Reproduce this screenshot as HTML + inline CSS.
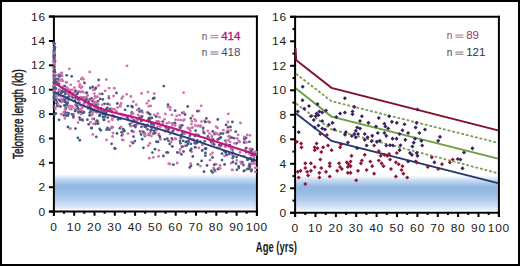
<!DOCTYPE html>
<html><head><meta charset="utf-8"><style>
html,body{margin:0;padding:0;background:#fff}
svg{display:block}
.ax{stroke:#000;stroke-width:2;fill:none}
.tl{font-family:"Liberation Sans",sans-serif;font-size:10.5px;fill:#1a1a1a;letter-spacing:0.7px}
.ti{font-family:"Liberation Sans",sans-serif;font-size:14.5px;fill:#1a1a1a;stroke:#1a1a1a;stroke-width:0.3}
.lp{stroke:#c4157a;stroke-width:2.1;fill:none;stroke-linejoin:round}
.lb{stroke:#2c3a78;stroke-width:1.9;fill:none;stroke-linejoin:round}
.r99{stroke:#80102e;stroke-width:1.9;fill:none}
.g50{stroke:#6aa040;stroke-width:1.9;fill:none}
.gd{stroke:#789e4e;stroke-width:1.8;fill:none;stroke-dasharray:2.8 1.9}
.b01{stroke:#22386e;stroke-width:1.9;fill:none}
.p{fill:#d070aa}.b{fill:#4a5a84}.v{fill:#3a2262}.r{fill:#8e1536}
.n{font-family:"Liberation Sans",sans-serif;font-size:10px}
</style></head><body>
<svg width="520" height="266" viewBox="0 0 520 266">
<defs>
<linearGradient id="band" x1="0" y1="0" x2="0" y2="1">
<stop offset="0" stop-color="#ffffff"/>
<stop offset="0.14" stop-color="#c6dbf3"/>
<stop offset="0.32" stop-color="#93b8e3"/>
<stop offset="0.45" stop-color="#95bae4"/>
<stop offset="0.68" stop-color="#adcaec"/>
<stop offset="0.9" stop-color="#d2e3f5"/>
<stop offset="1" stop-color="#eaf2fb"/>
</linearGradient>
</defs>
<rect x="1" y="1" width="518" height="264" fill="#fff" stroke="#000" stroke-width="2"/>
<rect x="54.9" y="174" width="201" height="35.3" fill="url(#band)"/><path class="ax" d="M48.9 16.6H257.9" /><path class="ax" d="M256.9 15.6V215.8" /><path class="ax" d="M53.9 15.6V215.8" /><path class="ax" d="M48.9 211.6H257.9" /><path class="ax" d="M48.9 211.6H53.9"/><text class="tl" transform="translate(46 215.7) scale(1.14 1)" text-anchor="end">0</text><path class="ax" d="M48.9 187.2H53.9"/><text class="tl" transform="translate(46 191.3) scale(1.14 1)" text-anchor="end">2</text><path class="ax" d="M48.9 162.8H53.9"/><text class="tl" transform="translate(46 166.9) scale(1.14 1)" text-anchor="end">4</text><path class="ax" d="M48.9 138.5H53.9"/><text class="tl" transform="translate(46 142.6) scale(1.14 1)" text-anchor="end">6</text><path class="ax" d="M48.9 114.1H53.9"/><text class="tl" transform="translate(46 118.2) scale(1.14 1)" text-anchor="end">8</text><path class="ax" d="M48.9 89.7H53.9"/><text class="tl" transform="translate(46 93.8) scale(1.14 1)" text-anchor="end">10</text><path class="ax" d="M48.9 65.3H53.9"/><text class="tl" transform="translate(46 69.4) scale(1.14 1)" text-anchor="end">12</text><path class="ax" d="M48.9 41H53.9"/><text class="tl" transform="translate(46 45.1) scale(1.14 1)" text-anchor="end">14</text><path class="ax" d="M48.9 16.6H53.9"/><text class="tl" transform="translate(46 20.7) scale(1.14 1)" text-anchor="end">16</text><path class="ax" d="M53.9 211.6V215.8"/><text class="tl" transform="translate(53.9 231.2) scale(1.14 1)" text-anchor="middle">0</text><path class="ax" d="M64 211.6V213.8"/><path class="ax" d="M74.2 211.6V215.8"/><text class="tl" transform="translate(74.2 231.2) scale(1.14 1)" text-anchor="middle">10</text><path class="ax" d="M84.3 211.6V213.8"/><path class="ax" d="M94.5 211.6V215.8"/><text class="tl" transform="translate(94.5 231.2) scale(1.14 1)" text-anchor="middle">20</text><path class="ax" d="M104.6 211.6V213.8"/><path class="ax" d="M114.8 211.6V215.8"/><text class="tl" transform="translate(114.8 231.2) scale(1.14 1)" text-anchor="middle">30</text><path class="ax" d="M124.9 211.6V213.8"/><path class="ax" d="M135.1 211.6V215.8"/><text class="tl" transform="translate(135.1 231.2) scale(1.14 1)" text-anchor="middle">40</text><path class="ax" d="M145.2 211.6V213.8"/><path class="ax" d="M155.4 211.6V215.8"/><text class="tl" transform="translate(155.4 231.2) scale(1.14 1)" text-anchor="middle">50</text><path class="ax" d="M165.5 211.6V213.8"/><path class="ax" d="M175.7 211.6V215.8"/><text class="tl" transform="translate(175.7 231.2) scale(1.14 1)" text-anchor="middle">60</text><path class="ax" d="M185.8 211.6V213.8"/><path class="ax" d="M196 211.6V215.8"/><text class="tl" transform="translate(196 231.2) scale(1.14 1)" text-anchor="middle">70</text><path class="ax" d="M206.1 211.6V213.8"/><path class="ax" d="M216.3 211.6V215.8"/><text class="tl" transform="translate(216.3 231.2) scale(1.14 1)" text-anchor="middle">80</text><path class="ax" d="M226.4 211.6V213.8"/><path class="ax" d="M236.6 211.6V215.8"/><text class="tl" transform="translate(236.6 231.2) scale(1.14 1)" text-anchor="middle">90</text><path class="ax" d="M246.7 211.6V213.8"/><path class="ax" d="M256.9 211.6V215.8"/><text class="tl" transform="translate(256.9 231.2) scale(1.14 1)" text-anchor="middle">100</text><circle class="b" cx="168.8" cy="128.7" r="1.4"/><circle class="b" cx="217.7" cy="139.6" r="1.4"/><circle class="b" cx="59.2" cy="99.9" r="1.4"/><circle class="b" cx="83.3" cy="112.9" r="1.4"/><circle class="b" cx="60.4" cy="106.5" r="1.4"/><circle class="b" cx="166.6" cy="152.4" r="1.4"/><circle class="b" cx="121.8" cy="135.4" r="1.4"/><circle class="p" cx="148.9" cy="106.2" r="1.4"/><circle class="p" cx="125.8" cy="116.2" r="1.4"/><circle class="b" cx="155.8" cy="129.8" r="1.4"/><circle class="p" cx="96.1" cy="87.4" r="1.4"/><circle class="b" cx="106.3" cy="109.2" r="1.4"/><circle class="p" cx="90.6" cy="122.3" r="1.4"/><circle class="p" cx="54.9" cy="80.6" r="1.4"/><circle class="p" cx="154.2" cy="93.6" r="1.4"/><circle class="p" cx="114.3" cy="88.2" r="1.4"/><circle class="p" cx="199.1" cy="110.9" r="1.4"/><circle class="b" cx="145.7" cy="127.2" r="1.4"/><circle class="p" cx="149.1" cy="120.7" r="1.4"/><circle class="p" cx="172.6" cy="139.9" r="1.4"/><circle class="p" cx="67.1" cy="102.9" r="1.4"/><circle class="b" cx="63.5" cy="99.5" r="1.4"/><circle class="b" cx="67.9" cy="115.7" r="1.4"/><circle class="p" cx="88.7" cy="104.5" r="1.4"/><circle class="b" cx="83.1" cy="97.7" r="1.4"/><circle class="p" cx="170.1" cy="109.7" r="1.4"/><circle class="p" cx="73.6" cy="114.5" r="1.4"/><circle class="p" cx="209.5" cy="133.6" r="1.4"/><circle class="p" cx="126.7" cy="94.3" r="1.4"/><circle class="b" cx="78.8" cy="112" r="1.4"/><circle class="p" cx="250" cy="149.9" r="1.4"/><circle class="p" cx="111.7" cy="110.6" r="1.4"/><circle class="p" cx="78.6" cy="113.1" r="1.4"/><circle class="p" cx="120.1" cy="106.6" r="1.4"/><circle class="p" cx="105.8" cy="114.2" r="1.4"/><circle class="p" cx="232.2" cy="154.5" r="1.4"/><circle class="p" cx="172.1" cy="123.5" r="1.4"/><circle class="p" cx="94.5" cy="107.7" r="1.4"/><circle class="p" cx="166.6" cy="128.3" r="1.4"/><circle class="b" cx="243.5" cy="165" r="1.4"/><circle class="b" cx="190" cy="135.5" r="1.4"/><circle class="b" cx="233.5" cy="156.4" r="1.4"/><circle class="p" cx="208.5" cy="137.9" r="1.4"/><circle class="b" cx="185.9" cy="142.2" r="1.4"/><circle class="b" cx="63.6" cy="91.6" r="1.4"/><circle class="b" cx="195" cy="135.9" r="1.4"/><circle class="p" cx="73.3" cy="117.8" r="1.4"/><circle class="b" cx="73.4" cy="116.5" r="1.4"/><circle class="b" cx="188.4" cy="141.8" r="1.4"/><circle class="p" cx="167.9" cy="107" r="1.4"/><circle class="p" cx="122.9" cy="115.4" r="1.4"/><circle class="b" cx="183.2" cy="140.9" r="1.4"/><circle class="p" cx="244.5" cy="140.1" r="1.4"/><circle class="b" cx="148.9" cy="118.3" r="1.4"/><circle class="b" cx="229.7" cy="145.1" r="1.4"/><circle class="b" cx="65.5" cy="112.5" r="1.4"/><circle class="p" cx="209.8" cy="140.3" r="1.4"/><circle class="p" cx="146.9" cy="103.3" r="1.4"/><circle class="b" cx="231.4" cy="148.1" r="1.4"/><circle class="p" cx="82.9" cy="120.7" r="1.4"/><circle class="p" cx="139.6" cy="116.7" r="1.4"/><circle class="b" cx="163.4" cy="156" r="1.4"/><circle class="p" cx="82.1" cy="110.8" r="1.4"/><circle class="p" cx="136.7" cy="124.6" r="1.4"/><circle class="b" cx="90.3" cy="88" r="1.4"/><circle class="b" cx="211.3" cy="170.8" r="1.4"/><circle class="b" cx="65.2" cy="105.3" r="1.4"/><circle class="b" cx="212.9" cy="142.9" r="1.4"/><circle class="b" cx="236.5" cy="157" r="1.4"/><circle class="p" cx="66.6" cy="98.7" r="1.4"/><circle class="p" cx="128" cy="133.6" r="1.4"/><circle class="b" cx="190.9" cy="143.8" r="1.4"/><circle class="b" cx="212.8" cy="131.4" r="1.4"/><circle class="b" cx="156.2" cy="116.5" r="1.4"/><circle class="b" cx="149.4" cy="120.1" r="1.4"/><circle class="p" cx="93.2" cy="110.6" r="1.4"/><circle class="p" cx="67.8" cy="88.6" r="1.4"/><circle class="p" cx="96" cy="121.3" r="1.4"/><circle class="b" cx="187.7" cy="106.5" r="1.4"/><circle class="p" cx="178.4" cy="119.9" r="1.4"/><circle class="p" cx="204.5" cy="121" r="1.4"/><circle class="b" cx="251.5" cy="169.7" r="1.4"/><circle class="p" cx="95.1" cy="96.8" r="1.4"/><circle class="b" cx="149.8" cy="118" r="1.4"/><circle class="p" cx="56.8" cy="102.1" r="1.4"/><circle class="p" cx="246.6" cy="147.9" r="1.4"/><circle class="p" cx="61.8" cy="72.8" r="1.4"/><circle class="b" cx="127.8" cy="106.1" r="1.4"/><circle class="b" cx="147.5" cy="129.3" r="1.4"/><circle class="p" cx="192.1" cy="139.7" r="1.4"/><circle class="b" cx="139" cy="108.8" r="1.4"/><circle class="p" cx="70.2" cy="128.7" r="1.4"/><circle class="p" cx="147.2" cy="112.4" r="1.4"/><circle class="b" cx="252.2" cy="149.3" r="1.4"/><circle class="p" cx="75.4" cy="90.3" r="1.4"/><circle class="b" cx="167.3" cy="138.7" r="1.4"/><circle class="b" cx="182.5" cy="132.1" r="1.4"/><circle class="b" cx="140.4" cy="119" r="1.4"/><circle class="b" cx="141.3" cy="120.4" r="1.4"/><circle class="b" cx="67.1" cy="97.6" r="1.4"/><circle class="b" cx="91.5" cy="98.3" r="1.4"/><circle class="b" cx="232.4" cy="149.7" r="1.4"/><circle class="b" cx="141.4" cy="120.9" r="1.4"/><circle class="p" cx="109.6" cy="104.7" r="1.4"/><circle class="p" cx="151.3" cy="122.7" r="1.4"/><circle class="b" cx="107.1" cy="108.4" r="1.4"/><circle class="b" cx="71.6" cy="96.1" r="1.4"/><circle class="p" cx="98.3" cy="104.5" r="1.4"/><circle class="p" cx="197.8" cy="126" r="1.4"/><circle class="b" cx="254.5" cy="154.8" r="1.4"/><circle class="p" cx="79.1" cy="100.8" r="1.4"/><circle class="p" cx="158" cy="123.2" r="1.4"/><circle class="b" cx="90.9" cy="110.8" r="1.4"/><circle class="b" cx="234" cy="138.2" r="1.4"/><circle class="p" cx="133.3" cy="101.6" r="1.4"/><circle class="p" cx="245.1" cy="170.3" r="1.4"/><circle class="b" cx="93.9" cy="118.9" r="1.4"/><circle class="p" cx="54.6" cy="76.2" r="1.4"/><circle class="p" cx="131.7" cy="142.2" r="1.4"/><circle class="b" cx="102.9" cy="117" r="1.4"/><circle class="b" cx="99.4" cy="115.7" r="1.4"/><circle class="p" cx="79.4" cy="102.3" r="1.4"/><circle class="b" cx="197" cy="143.1" r="1.4"/><circle class="b" cx="134.9" cy="141.1" r="1.4"/><circle class="p" cx="160.3" cy="126.8" r="1.4"/><circle class="b" cx="56.8" cy="103.3" r="1.4"/><circle class="b" cx="144.8" cy="136.1" r="1.4"/><circle class="b" cx="54" cy="62" r="1.4"/><circle class="b" cx="197.8" cy="164.3" r="1.4"/><circle class="p" cx="216" cy="164.2" r="1.4"/><circle class="p" cx="212.6" cy="152.8" r="1.4"/><circle class="p" cx="105.2" cy="90.9" r="1.4"/><circle class="b" cx="101.1" cy="108.3" r="1.4"/><circle class="p" cx="189.3" cy="128.9" r="1.4"/><circle class="p" cx="108.8" cy="121.6" r="1.4"/><circle class="p" cx="106.3" cy="79.6" r="1.4"/><circle class="p" cx="201.2" cy="105.8" r="1.4"/><circle class="p" cx="191.5" cy="124.1" r="1.4"/><circle class="b" cx="54.2" cy="89.3" r="1.4"/><circle class="b" cx="154.3" cy="98" r="1.4"/><circle class="b" cx="209.3" cy="122.2" r="1.4"/><circle class="p" cx="56.2" cy="98.2" r="1.4"/><circle class="b" cx="69.3" cy="92.6" r="1.4"/><circle class="b" cx="154.9" cy="149.2" r="1.4"/><circle class="p" cx="144.6" cy="134.2" r="1.4"/><circle class="p" cx="172.6" cy="131.2" r="1.4"/><circle class="b" cx="78.5" cy="111.8" r="1.4"/><circle class="p" cx="231.3" cy="163.2" r="1.4"/><circle class="p" cx="88.3" cy="108.6" r="1.4"/><circle class="p" cx="61.7" cy="102.1" r="1.4"/><circle class="b" cx="182.5" cy="146.6" r="1.4"/><circle class="p" cx="88.9" cy="108" r="1.4"/><circle class="b" cx="194.7" cy="142.6" r="1.4"/><circle class="p" cx="238.1" cy="134.8" r="1.4"/><circle class="p" cx="137.7" cy="124.1" r="1.4"/><circle class="b" cx="71.7" cy="76.3" r="1.4"/><circle class="b" cx="60.9" cy="75.6" r="1.4"/><circle class="b" cx="64.4" cy="105.5" r="1.4"/><circle class="b" cx="218.6" cy="168.6" r="1.4"/><circle class="b" cx="76.5" cy="109.1" r="1.4"/><circle class="p" cx="204.5" cy="133.3" r="1.4"/><circle class="b" cx="85" cy="102.3" r="1.4"/><circle class="b" cx="222" cy="160.1" r="1.4"/><circle class="b" cx="195.2" cy="143.4" r="1.4"/><circle class="p" cx="249" cy="153.5" r="1.4"/><circle class="p" cx="54" cy="85.7" r="1.4"/><circle class="b" cx="204" cy="171.7" r="1.4"/><circle class="b" cx="57.7" cy="95.4" r="1.4"/><circle class="b" cx="80.3" cy="111.6" r="1.4"/><circle class="p" cx="172.4" cy="125.3" r="1.4"/><circle class="p" cx="122.7" cy="134" r="1.4"/><circle class="p" cx="254.8" cy="151.6" r="1.4"/><circle class="p" cx="94.4" cy="110.5" r="1.4"/><circle class="b" cx="250.4" cy="158.2" r="1.4"/><circle class="p" cx="80.5" cy="92.1" r="1.4"/><circle class="p" cx="78" cy="122.6" r="1.4"/><circle class="p" cx="122.2" cy="139.8" r="1.4"/><circle class="b" cx="226.1" cy="124.9" r="1.4"/><circle class="b" cx="141.8" cy="111" r="1.4"/><circle class="b" cx="254.1" cy="154" r="1.4"/><circle class="b" cx="66.7" cy="75.3" r="1.4"/><circle class="p" cx="150.7" cy="105.9" r="1.4"/><circle class="p" cx="88" cy="108.2" r="1.4"/><circle class="p" cx="62.2" cy="75.8" r="1.4"/><circle class="p" cx="255.4" cy="171.9" r="1.4"/><circle class="p" cx="224.6" cy="155.9" r="1.4"/><circle class="p" cx="137.3" cy="110.1" r="1.4"/><circle class="b" cx="54.2" cy="96.7" r="1.4"/><circle class="b" cx="111.6" cy="143.8" r="1.4"/><circle class="b" cx="103.6" cy="113.1" r="1.4"/><circle class="p" cx="97.4" cy="107.3" r="1.4"/><circle class="b" cx="230.5" cy="127" r="1.4"/><circle class="p" cx="205.7" cy="149.1" r="1.4"/><circle class="p" cx="70.1" cy="105.8" r="1.4"/><circle class="b" cx="205" cy="148.7" r="1.4"/><circle class="b" cx="69.2" cy="96.3" r="1.4"/><circle class="b" cx="247.4" cy="168.9" r="1.4"/><circle class="b" cx="180.4" cy="143.3" r="1.4"/><circle class="p" cx="183.5" cy="120.6" r="1.4"/><circle class="b" cx="181.9" cy="125.4" r="1.4"/><circle class="p" cx="214.7" cy="134.3" r="1.4"/><circle class="p" cx="211.8" cy="135.9" r="1.4"/><circle class="b" cx="212.5" cy="157.5" r="1.4"/><circle class="b" cx="68.6" cy="113.5" r="1.4"/><circle class="p" cx="228.6" cy="136.3" r="1.4"/><circle class="p" cx="78.6" cy="81.4" r="1.4"/><circle class="b" cx="54.3" cy="87.4" r="1.4"/><circle class="p" cx="175.1" cy="138.3" r="1.4"/><circle class="p" cx="75.6" cy="104.8" r="1.4"/><circle class="p" cx="149.9" cy="143.3" r="1.4"/><circle class="p" cx="179.7" cy="152.6" r="1.4"/><circle class="b" cx="68.5" cy="94.1" r="1.4"/><circle class="p" cx="113.6" cy="96" r="1.4"/><circle class="b" cx="191" cy="165.7" r="1.4"/><circle class="b" cx="251.3" cy="171.1" r="1.4"/><circle class="b" cx="188.1" cy="143.9" r="1.4"/><circle class="b" cx="180.1" cy="140.9" r="1.4"/><circle class="p" cx="109" cy="88.1" r="1.4"/><circle class="b" cx="226.7" cy="154.9" r="1.4"/><circle class="b" cx="66.3" cy="103.7" r="1.4"/><circle class="b" cx="244.2" cy="142.6" r="1.4"/><circle class="b" cx="131.8" cy="112.4" r="1.4"/><circle class="b" cx="221.1" cy="145.6" r="1.4"/><circle class="p" cx="90.7" cy="108.6" r="1.4"/><circle class="b" cx="183" cy="133.6" r="1.4"/><circle class="b" cx="107.6" cy="103.9" r="1.4"/><circle class="b" cx="236" cy="163.7" r="1.4"/><circle class="p" cx="250.8" cy="155.1" r="1.4"/><circle class="p" cx="106.5" cy="139.9" r="1.4"/><circle class="b" cx="75.2" cy="111.1" r="1.4"/><circle class="p" cx="130.4" cy="126" r="1.4"/><circle class="b" cx="67.2" cy="105.1" r="1.4"/><circle class="p" cx="223.4" cy="130.2" r="1.4"/><circle class="b" cx="212.6" cy="172.4" r="1.4"/><circle class="b" cx="75.3" cy="91.3" r="1.4"/><circle class="p" cx="96.4" cy="102.8" r="1.4"/><circle class="b" cx="142.1" cy="116.5" r="1.4"/><circle class="p" cx="55.3" cy="108.7" r="1.4"/><circle class="p" cx="230.1" cy="141.8" r="1.4"/><circle class="p" cx="109.3" cy="110.6" r="1.4"/><circle class="b" cx="54.1" cy="92.5" r="1.4"/><circle class="p" cx="145.4" cy="125.2" r="1.4"/><circle class="p" cx="65.3" cy="109.3" r="1.4"/><circle class="b" cx="92.6" cy="101" r="1.4"/><circle class="b" cx="205.4" cy="155.7" r="1.4"/><circle class="p" cx="210" cy="160.2" r="1.4"/><circle class="p" cx="166.1" cy="128.2" r="1.4"/><circle class="p" cx="123.3" cy="140.1" r="1.4"/><circle class="b" cx="67.7" cy="103.1" r="1.4"/><circle class="p" cx="241.3" cy="163.6" r="1.4"/><circle class="b" cx="203.7" cy="132.5" r="1.4"/><circle class="b" cx="169.7" cy="144.1" r="1.4"/><circle class="b" cx="99.8" cy="115.4" r="1.4"/><circle class="p" cx="217.5" cy="128" r="1.4"/><circle class="b" cx="140.2" cy="131.5" r="1.4"/><circle class="p" cx="168.9" cy="128.4" r="1.4"/><circle class="b" cx="190.9" cy="118.3" r="1.4"/><circle class="b" cx="232.7" cy="153.1" r="1.4"/><circle class="b" cx="249" cy="166" r="1.4"/><circle class="b" cx="143.4" cy="147.8" r="1.4"/><circle class="b" cx="211.3" cy="142.1" r="1.4"/><circle class="b" cx="158.3" cy="121.7" r="1.4"/><circle class="p" cx="56.6" cy="83.8" r="1.4"/><circle class="b" cx="213.1" cy="139.4" r="1.4"/><circle class="p" cx="240" cy="152.3" r="1.4"/><circle class="b" cx="58.2" cy="79.1" r="1.4"/><circle class="b" cx="141.4" cy="126.8" r="1.4"/><circle class="b" cx="67.9" cy="127" r="1.4"/><circle class="p" cx="80.5" cy="105.4" r="1.4"/><circle class="b" cx="220.8" cy="137.5" r="1.4"/><circle class="b" cx="72.7" cy="97.6" r="1.4"/><circle class="b" cx="189.1" cy="137.9" r="1.4"/><circle class="b" cx="181.6" cy="134.7" r="1.4"/><circle class="p" cx="210.6" cy="154.6" r="1.4"/><circle class="b" cx="127.4" cy="117.6" r="1.4"/><circle class="b" cx="106.2" cy="112.8" r="1.4"/><circle class="p" cx="88.6" cy="104.5" r="1.4"/><circle class="b" cx="117.3" cy="103.5" r="1.4"/><circle class="p" cx="202.4" cy="145" r="1.4"/><circle class="b" cx="89.6" cy="115.3" r="1.4"/><circle class="b" cx="233" cy="161.9" r="1.4"/><circle class="b" cx="185" cy="114.5" r="1.4"/><circle class="b" cx="75.1" cy="110.7" r="1.4"/><circle class="p" cx="227.6" cy="130.7" r="1.4"/><circle class="p" cx="236.8" cy="160.4" r="1.4"/><circle class="p" cx="70.7" cy="95.6" r="1.4"/><circle class="p" cx="61.1" cy="73.2" r="1.4"/><circle class="b" cx="99.9" cy="114.7" r="1.4"/><circle class="p" cx="185" cy="145.9" r="1.4"/><circle class="b" cx="252" cy="159.3" r="1.4"/><circle class="p" cx="67.6" cy="92.5" r="1.4"/><circle class="p" cx="194.8" cy="147.1" r="1.4"/><circle class="p" cx="110.8" cy="128" r="1.4"/><circle class="b" cx="236.7" cy="143.3" r="1.4"/><circle class="b" cx="78.1" cy="99.2" r="1.4"/><circle class="b" cx="246.1" cy="152" r="1.4"/><circle class="b" cx="195.6" cy="130.6" r="1.4"/><circle class="p" cx="62" cy="88.1" r="1.4"/><circle class="p" cx="112.1" cy="118.8" r="1.4"/><circle class="b" cx="167.9" cy="152.6" r="1.4"/><circle class="p" cx="180.3" cy="126" r="1.4"/><circle class="p" cx="180.9" cy="120.1" r="1.4"/><circle class="p" cx="66.7" cy="82.4" r="1.4"/><circle class="p" cx="53.9" cy="86.3" r="1.4"/><circle class="p" cx="68.1" cy="90" r="1.4"/><circle class="p" cx="154.3" cy="114.8" r="1.4"/><circle class="p" cx="93.2" cy="89.9" r="1.4"/><circle class="p" cx="56.9" cy="95.6" r="1.4"/><circle class="b" cx="150.7" cy="130.5" r="1.4"/><circle class="b" cx="219.4" cy="138.5" r="1.4"/><circle class="b" cx="91" cy="115.1" r="1.4"/><circle class="b" cx="189.8" cy="167.4" r="1.4"/><circle class="p" cx="198.9" cy="147.8" r="1.4"/><circle class="b" cx="64.4" cy="112.4" r="1.4"/><circle class="b" cx="219.4" cy="145.2" r="1.4"/><circle class="p" cx="145.2" cy="135.4" r="1.4"/><circle class="b" cx="238.7" cy="166.5" r="1.4"/><circle class="b" cx="54" cy="85.8" r="1.4"/><circle class="b" cx="84.5" cy="83" r="1.4"/><circle class="p" cx="68.7" cy="92" r="1.4"/><circle class="p" cx="82.4" cy="77.8" r="1.4"/><circle class="b" cx="102.8" cy="113.9" r="1.4"/><circle class="p" cx="68.3" cy="100.6" r="1.4"/><circle class="p" cx="60.1" cy="80.5" r="1.4"/><circle class="p" cx="147.9" cy="92.1" r="1.4"/><circle class="p" cx="199.6" cy="125.8" r="1.4"/><circle class="b" cx="171.8" cy="138.5" r="1.4"/><circle class="b" cx="186.6" cy="145.6" r="1.4"/><circle class="b" cx="224.7" cy="151.3" r="1.4"/><circle class="b" cx="101.3" cy="110.6" r="1.4"/><circle class="p" cx="149.3" cy="158.2" r="1.4"/><circle class="p" cx="89.7" cy="72" r="1.4"/><circle class="b" cx="181.9" cy="146.8" r="1.4"/><circle class="b" cx="136.9" cy="120.2" r="1.4"/><circle class="b" cx="108.9" cy="98" r="1.4"/><circle class="b" cx="65.5" cy="101.8" r="1.4"/><circle class="b" cx="217.9" cy="169.2" r="1.4"/><circle class="p" cx="98.2" cy="122.9" r="1.4"/><circle class="p" cx="140.1" cy="117.7" r="1.4"/><circle class="p" cx="71.2" cy="106.3" r="1.4"/><circle class="b" cx="158" cy="141.9" r="1.4"/><circle class="p" cx="83.6" cy="79.3" r="1.4"/><circle class="b" cx="242.2" cy="162.2" r="1.4"/><circle class="b" cx="197.2" cy="140.3" r="1.4"/><circle class="b" cx="97" cy="120.8" r="1.4"/><circle class="b" cx="186.7" cy="141.6" r="1.4"/><circle class="p" cx="120.7" cy="114.3" r="1.4"/><circle class="b" cx="141.1" cy="134.5" r="1.4"/><circle class="p" cx="190.7" cy="163.6" r="1.4"/><circle class="b" cx="203.2" cy="128" r="1.4"/><circle class="b" cx="57.4" cy="106.1" r="1.4"/><circle class="p" cx="200.4" cy="126.5" r="1.4"/><circle class="p" cx="200.6" cy="125.6" r="1.4"/><circle class="b" cx="89.5" cy="99.5" r="1.4"/><circle class="p" cx="94.9" cy="89.4" r="1.4"/><circle class="b" cx="202.2" cy="150.5" r="1.4"/><circle class="p" cx="63.7" cy="112.1" r="1.4"/><circle class="b" cx="54" cy="57" r="1.4"/><circle class="b" cx="133.1" cy="143.1" r="1.4"/><circle class="b" cx="225.5" cy="140.7" r="1.4"/><circle class="b" cx="205.4" cy="152.9" r="1.4"/><circle class="b" cx="244.3" cy="138.7" r="1.4"/><circle class="p" cx="54.1" cy="87.2" r="1.4"/><circle class="b" cx="96.8" cy="112.2" r="1.4"/><circle class="p" cx="170.9" cy="142.2" r="1.4"/><circle class="p" cx="179.5" cy="115.1" r="1.4"/><circle class="b" cx="165.6" cy="131.1" r="1.4"/><circle class="p" cx="250" cy="135.3" r="1.4"/><circle class="b" cx="180.8" cy="138" r="1.4"/><circle class="b" cx="162.7" cy="121.6" r="1.4"/><circle class="b" cx="97.3" cy="121" r="1.4"/><circle class="b" cx="149" cy="121.5" r="1.4"/><circle class="b" cx="232.6" cy="158" r="1.4"/><circle class="b" cx="54.3" cy="79.7" r="1.4"/><circle class="p" cx="153.6" cy="126.4" r="1.4"/><circle class="b" cx="67.8" cy="97.8" r="1.4"/><circle class="b" cx="79.8" cy="140.2" r="1.4"/><circle class="p" cx="92.5" cy="119" r="1.4"/><circle class="p" cx="88.4" cy="100.1" r="1.4"/><circle class="b" cx="114.2" cy="116.5" r="1.4"/><circle class="p" cx="188.6" cy="137.8" r="1.4"/><circle class="p" cx="148.6" cy="100.8" r="1.4"/><circle class="b" cx="247.4" cy="159.5" r="1.4"/><circle class="p" cx="251.4" cy="152.1" r="1.4"/><circle class="p" cx="75.9" cy="104.4" r="1.4"/><circle class="p" cx="61.8" cy="79.5" r="1.4"/><circle class="b" cx="61.4" cy="92.7" r="1.4"/><circle class="b" cx="173.3" cy="130.7" r="1.4"/><circle class="b" cx="77.3" cy="106" r="1.4"/><circle class="b" cx="151.8" cy="118" r="1.4"/><circle class="b" cx="120.4" cy="118.9" r="1.4"/><circle class="b" cx="135.4" cy="127" r="1.4"/><circle class="p" cx="203.1" cy="130.5" r="1.4"/><circle class="p" cx="141.5" cy="93.4" r="1.4"/><circle class="p" cx="61.2" cy="114.2" r="1.4"/><circle class="b" cx="58.6" cy="91.8" r="1.4"/><circle class="p" cx="229.5" cy="136.2" r="1.4"/><circle class="p" cx="192.4" cy="127.5" r="1.4"/><circle class="b" cx="251.3" cy="151" r="1.4"/><circle class="b" cx="58.5" cy="74.8" r="1.4"/><circle class="b" cx="133.5" cy="136.6" r="1.4"/><circle class="b" cx="87.4" cy="119.7" r="1.4"/><circle class="b" cx="198.4" cy="135.1" r="1.4"/><circle class="b" cx="61.5" cy="92.4" r="1.4"/><circle class="b" cx="114.7" cy="148.2" r="1.4"/><circle class="p" cx="66.1" cy="82.1" r="1.4"/><circle class="p" cx="162.9" cy="123.7" r="1.4"/><circle class="p" cx="87.7" cy="95.4" r="1.4"/><circle class="p" cx="191.6" cy="151.8" r="1.4"/><circle class="p" cx="179.6" cy="127.4" r="1.4"/><circle class="p" cx="76.6" cy="97" r="1.4"/><circle class="p" cx="54.4" cy="79.4" r="1.4"/><circle class="p" cx="200.4" cy="166.1" r="1.4"/><circle class="b" cx="98.7" cy="79.9" r="1.4"/><circle class="b" cx="81.4" cy="113.1" r="1.4"/><circle class="b" cx="104.3" cy="119.7" r="1.4"/><circle class="p" cx="74.4" cy="87.7" r="1.4"/><circle class="b" cx="112.5" cy="127.3" r="1.4"/><circle class="b" cx="103.6" cy="119.8" r="1.4"/><circle class="p" cx="114.3" cy="109.2" r="1.4"/><circle class="p" cx="80" cy="84.6" r="1.4"/><circle class="b" cx="95.6" cy="123.8" r="1.4"/><circle class="b" cx="90.6" cy="107.4" r="1.4"/><circle class="b" cx="236.8" cy="169.8" r="1.4"/><circle class="p" cx="247.2" cy="134.9" r="1.4"/><circle class="b" cx="182.1" cy="125.3" r="1.4"/><circle class="b" cx="59.3" cy="76.5" r="1.4"/><circle class="p" cx="89.7" cy="100.3" r="1.4"/><circle class="p" cx="54.1" cy="81.8" r="1.4"/><circle class="b" cx="54.3" cy="114.7" r="1.4"/><circle class="p" cx="99.8" cy="93.9" r="1.4"/><circle class="b" cx="82.3" cy="119.6" r="1.4"/><circle class="p" cx="255" cy="167.8" r="1.4"/><circle class="p" cx="117.5" cy="107.6" r="1.4"/><circle class="b" cx="115.2" cy="148.7" r="1.4"/><circle class="b" cx="128.1" cy="119.3" r="1.4"/><circle class="b" cx="140.4" cy="117.9" r="1.4"/><circle class="p" cx="70.8" cy="84.8" r="1.4"/><circle class="p" cx="249.2" cy="163.8" r="1.4"/><circle class="p" cx="86.2" cy="93.2" r="1.4"/><circle class="p" cx="212.1" cy="143.6" r="1.4"/><circle class="b" cx="55.9" cy="88.5" r="1.4"/><circle class="p" cx="67.2" cy="88" r="1.4"/><circle class="b" cx="90.1" cy="104.7" r="1.4"/><circle class="p" cx="95.5" cy="97.6" r="1.4"/><circle class="p" cx="164.6" cy="131.1" r="1.4"/><circle class="p" cx="133" cy="113.7" r="1.4"/><circle class="p" cx="216.1" cy="126.6" r="1.4"/><circle class="b" cx="109.3" cy="129.7" r="1.4"/><circle class="b" cx="245.8" cy="148.4" r="1.4"/><circle class="b" cx="231.3" cy="148.5" r="1.4"/><circle class="p" cx="169" cy="122.6" r="1.4"/><circle class="p" cx="217.1" cy="133.8" r="1.4"/><circle class="b" cx="74.8" cy="100.7" r="1.4"/><circle class="p" cx="93.6" cy="123.9" r="1.4"/><circle class="p" cx="156.5" cy="121.5" r="1.4"/><circle class="p" cx="229.9" cy="137.5" r="1.4"/><circle class="b" cx="86.9" cy="92.6" r="1.4"/><circle class="p" cx="54.1" cy="67.5" r="1.4"/><circle class="p" cx="95.2" cy="96.5" r="1.4"/><circle class="p" cx="228.3" cy="113.9" r="1.4"/><circle class="p" cx="54.4" cy="68.7" r="1.4"/><circle class="b" cx="107.5" cy="110.6" r="1.4"/><circle class="b" cx="172.3" cy="146.5" r="1.4"/><circle class="b" cx="214.1" cy="144.5" r="1.4"/><circle class="b" cx="252.8" cy="161.5" r="1.4"/><circle class="b" cx="232.4" cy="121.9" r="1.4"/><circle class="b" cx="148.5" cy="113" r="1.4"/><circle class="p" cx="102.3" cy="112.3" r="1.4"/><circle class="b" cx="57" cy="102.9" r="1.4"/><circle class="b" cx="142.2" cy="139.2" r="1.4"/><circle class="p" cx="120.3" cy="105.5" r="1.4"/><circle class="b" cx="214.2" cy="164.7" r="1.4"/><circle class="b" cx="107.5" cy="127.9" r="1.4"/><circle class="b" cx="63.8" cy="115.3" r="1.4"/><circle class="p" cx="211.9" cy="137.8" r="1.4"/><circle class="p" cx="175.8" cy="139.2" r="1.4"/><circle class="p" cx="215.1" cy="171.3" r="1.4"/><circle class="p" cx="243.9" cy="156.2" r="1.4"/><circle class="b" cx="153.4" cy="133.7" r="1.4"/><circle class="b" cx="207.9" cy="136.5" r="1.4"/><circle class="b" cx="68" cy="113.1" r="1.4"/><circle class="p" cx="234.6" cy="143.3" r="1.4"/><circle class="p" cx="78.8" cy="91.4" r="1.4"/><circle class="p" cx="249.9" cy="148.7" r="1.4"/><circle class="b" cx="168" cy="104.7" r="1.4"/><circle class="b" cx="228.1" cy="127.3" r="1.4"/><circle class="p" cx="180.2" cy="149.5" r="1.4"/><circle class="p" cx="156.8" cy="130.1" r="1.4"/><circle class="b" cx="55.8" cy="78.8" r="1.4"/><circle class="p" cx="150.1" cy="133.3" r="1.4"/><circle class="p" cx="81.2" cy="114.1" r="1.4"/><circle class="b" cx="225.6" cy="146.5" r="1.4"/><circle class="p" cx="226.6" cy="132.4" r="1.4"/><circle class="p" cx="95" cy="101.8" r="1.4"/><circle class="p" cx="92.1" cy="114.8" r="1.4"/><circle class="b" cx="123.3" cy="129.2" r="1.4"/><circle class="p" cx="184.2" cy="134.1" r="1.4"/><circle class="b" cx="86.4" cy="99.2" r="1.4"/><circle class="p" cx="239.7" cy="141.9" r="1.4"/><circle class="b" cx="151.4" cy="124.2" r="1.4"/><circle class="p" cx="170.1" cy="164" r="1.4"/><circle class="b" cx="77.8" cy="99.1" r="1.4"/><circle class="p" cx="75.1" cy="96.9" r="1.4"/><circle class="b" cx="255.5" cy="153.7" r="1.4"/><circle class="p" cx="176.6" cy="115.9" r="1.4"/><circle class="p" cx="148.2" cy="145.7" r="1.4"/><circle class="p" cx="229.1" cy="146.6" r="1.4"/><circle class="p" cx="217.3" cy="147.7" r="1.4"/><circle class="b" cx="119.9" cy="128.2" r="1.4"/><circle class="p" cx="213.6" cy="168" r="1.4"/><circle class="p" cx="63.5" cy="86.1" r="1.4"/><circle class="b" cx="102.9" cy="99.4" r="1.4"/><circle class="b" cx="59.1" cy="89.8" r="1.4"/><circle class="p" cx="177.2" cy="163" r="1.4"/><circle class="p" cx="96" cy="107" r="1.4"/><circle class="b" cx="235.7" cy="131.7" r="1.4"/><circle class="b" cx="54.4" cy="94.4" r="1.4"/><circle class="b" cx="100.8" cy="130.3" r="1.4"/><circle class="b" cx="223.1" cy="133.6" r="1.4"/><circle class="p" cx="228.6" cy="140" r="1.4"/><circle class="p" cx="92.9" cy="103.5" r="1.4"/><circle class="b" cx="63.6" cy="96.2" r="1.4"/><circle class="b" cx="251.9" cy="161" r="1.4"/><circle class="p" cx="230.7" cy="130.3" r="1.4"/><circle class="b" cx="153.1" cy="98.5" r="1.4"/><circle class="b" cx="156.4" cy="141.7" r="1.4"/><circle class="b" cx="54" cy="82.2" r="1.4"/><circle class="p" cx="220" cy="168.3" r="1.4"/><circle class="b" cx="92.7" cy="86.9" r="1.4"/><circle class="b" cx="121.7" cy="132.2" r="1.4"/><circle class="p" cx="138.1" cy="114.8" r="1.4"/><circle class="b" cx="147.5" cy="124.9" r="1.4"/><circle class="p" cx="187.9" cy="128" r="1.4"/><circle class="b" cx="60.2" cy="101" r="1.4"/><circle class="p" cx="80.9" cy="87.8" r="1.4"/><circle class="b" cx="123.9" cy="130.9" r="1.4"/><circle class="b" cx="148.2" cy="120.1" r="1.4"/><circle class="b" cx="231.6" cy="137.7" r="1.4"/><circle class="b" cx="164.9" cy="139.3" r="1.4"/><circle class="p" cx="72.2" cy="89.8" r="1.4"/><circle class="p" cx="254.8" cy="163.7" r="1.4"/><circle class="b" cx="232.9" cy="152.7" r="1.4"/><circle class="p" cx="137.5" cy="118.9" r="1.4"/><circle class="p" cx="109.7" cy="110.5" r="1.4"/><circle class="p" cx="153.4" cy="157.4" r="1.4"/><circle class="p" cx="97.3" cy="111.4" r="1.4"/><circle class="p" cx="97.5" cy="96.7" r="1.4"/><circle class="p" cx="70.3" cy="89.9" r="1.4"/><circle class="p" cx="246.4" cy="142.4" r="1.4"/><circle class="b" cx="65.8" cy="108.2" r="1.4"/><circle class="p" cx="70.1" cy="128.6" r="1.4"/><circle class="p" cx="184.9" cy="133.2" r="1.4"/><circle class="p" cx="168.7" cy="163.6" r="1.4"/><circle class="p" cx="93" cy="112.7" r="1.4"/><circle class="b" cx="54.2" cy="77.1" r="1.4"/><circle class="b" cx="183.5" cy="151.6" r="1.4"/><circle class="p" cx="92.7" cy="112.2" r="1.4"/><circle class="p" cx="220" cy="147.1" r="1.4"/><circle class="b" cx="65.4" cy="94" r="1.4"/><circle class="p" cx="170.2" cy="107.2" r="1.4"/><circle class="p" cx="131.4" cy="126.1" r="1.4"/><circle class="b" cx="95.8" cy="105.2" r="1.4"/><circle class="b" cx="131.7" cy="106.2" r="1.4"/><circle class="p" cx="112.5" cy="136.5" r="1.4"/><circle class="b" cx="151.3" cy="130.2" r="1.4"/><circle class="b" cx="158.6" cy="123" r="1.4"/><circle class="p" cx="207.8" cy="131" r="1.4"/><circle class="p" cx="81.2" cy="98" r="1.4"/><circle class="b" cx="214.7" cy="133.4" r="1.4"/><circle class="b" cx="97.7" cy="109.8" r="1.4"/><circle class="p" cx="130.1" cy="145.8" r="1.4"/><circle class="b" cx="88.9" cy="107.4" r="1.4"/><circle class="p" cx="116.3" cy="111.2" r="1.4"/><circle class="b" cx="148.8" cy="135.1" r="1.4"/><circle class="b" cx="62.1" cy="91" r="1.4"/><circle class="b" cx="104.5" cy="103.8" r="1.4"/><circle class="p" cx="240.6" cy="161.9" r="1.4"/><circle class="p" cx="81.6" cy="98.2" r="1.4"/><circle class="b" cx="54" cy="78.3" r="1.4"/><circle class="p" cx="69" cy="93.5" r="1.4"/><circle class="p" cx="63.5" cy="99.7" r="1.4"/><circle class="p" cx="143.4" cy="124.4" r="1.4"/><circle class="p" cx="60.8" cy="96.3" r="1.4"/><circle class="b" cx="83.5" cy="106.2" r="1.4"/><circle class="p" cx="94.6" cy="103.2" r="1.4"/><circle class="b" cx="159.1" cy="135.2" r="1.4"/><circle class="b" cx="204.7" cy="141.3" r="1.4"/><circle class="p" cx="232.4" cy="169.9" r="1.4"/><circle class="p" cx="78.9" cy="91.5" r="1.4"/><circle class="p" cx="98.7" cy="85.5" r="1.4"/><circle class="b" cx="190.4" cy="150.5" r="1.4"/><circle class="b" cx="77.9" cy="137.8" r="1.4"/><circle class="p" cx="59.6" cy="90.6" r="1.4"/><circle class="p" cx="165.3" cy="114" r="1.4"/><circle class="p" cx="226.1" cy="143.3" r="1.4"/><circle class="b" cx="124.5" cy="130.8" r="1.4"/><circle class="b" cx="133.8" cy="120.5" r="1.4"/><circle class="p" cx="180" cy="125.4" r="1.4"/><circle class="p" cx="219" cy="134.9" r="1.4"/><circle class="p" cx="190.3" cy="131.1" r="1.4"/><circle class="b" cx="106.6" cy="129.7" r="1.4"/><circle class="p" cx="215.7" cy="132.9" r="1.4"/><circle class="p" cx="81.7" cy="91.5" r="1.4"/><circle class="b" cx="195.4" cy="147.4" r="1.4"/><circle class="p" cx="71.4" cy="109.2" r="1.4"/><circle class="p" cx="112.4" cy="119.9" r="1.4"/><circle class="p" cx="174.2" cy="122.9" r="1.4"/><circle class="p" cx="201.4" cy="121.6" r="1.4"/><circle class="p" cx="158.9" cy="150.3" r="1.4"/><circle class="b" cx="88.7" cy="101.9" r="1.4"/><circle class="p" cx="69.3" cy="68.8" r="1.4"/><circle class="p" cx="145" cy="133.5" r="1.4"/><circle class="b" cx="175.1" cy="110.7" r="1.4"/><circle class="b" cx="225.8" cy="152.7" r="1.4"/><circle class="b" cx="214.5" cy="169.8" r="1.4"/><circle class="b" cx="95.6" cy="88.4" r="1.4"/><circle class="p" cx="220" cy="165.5" r="1.4"/><circle class="p" cx="238.8" cy="141" r="1.4"/><circle class="p" cx="73.6" cy="92.8" r="1.4"/><circle class="b" cx="207" cy="165.4" r="1.4"/><circle class="b" cx="110.7" cy="109.4" r="1.4"/><circle class="b" cx="222" cy="153.7" r="1.4"/><circle class="b" cx="75.7" cy="97.8" r="1.4"/><circle class="b" cx="224.6" cy="164.4" r="1.4"/><circle class="b" cx="91.5" cy="127.9" r="1.4"/><circle class="p" cx="54" cy="75.5" r="1.4"/><circle class="p" cx="59.5" cy="90.2" r="1.4"/><circle class="p" cx="62.8" cy="80.9" r="1.4"/><circle class="p" cx="130.9" cy="96.5" r="1.4"/><circle class="b" cx="243.8" cy="171" r="1.4"/><circle class="p" cx="132.1" cy="122.7" r="1.4"/><circle class="b" cx="116.5" cy="93" r="1.4"/><circle class="p" cx="208.4" cy="121.7" r="1.4"/><circle class="b" cx="70" cy="92.2" r="1.4"/><circle class="p" cx="141.2" cy="131.2" r="1.4"/><circle class="p" cx="93.2" cy="99.3" r="1.4"/><circle class="p" cx="77.5" cy="109.3" r="1.4"/><circle class="p" cx="68.5" cy="106.8" r="1.4"/><circle class="p" cx="256.7" cy="167.8" r="1.4"/><circle class="p" cx="57.3" cy="75.4" r="1.4"/><circle class="b" cx="98" cy="101.2" r="1.4"/><circle class="p" cx="252.6" cy="163.6" r="1.4"/><circle class="p" cx="82.1" cy="107.8" r="1.4"/><circle class="p" cx="194.8" cy="119.3" r="1.4"/><circle class="b" cx="96.8" cy="109.4" r="1.4"/><circle class="p" cx="66.6" cy="88.2" r="1.4"/><circle class="b" cx="110.3" cy="109" r="1.4"/><circle class="b" cx="129.8" cy="124.1" r="1.4"/><circle class="b" cx="64.5" cy="101.5" r="1.4"/><circle class="p" cx="256" cy="152.1" r="1.4"/><circle class="b" cx="76.6" cy="105.8" r="1.4"/><circle class="p" cx="167.3" cy="130.4" r="1.4"/><circle class="p" cx="94.3" cy="93.6" r="1.4"/><circle class="p" cx="92.9" cy="134.4" r="1.4"/><circle class="p" cx="57.7" cy="81.1" r="1.4"/><circle class="p" cx="226" cy="141.2" r="1.4"/><circle class="b" cx="102.3" cy="93.9" r="1.4"/><circle class="p" cx="160.3" cy="139.3" r="1.4"/><circle class="b" cx="64.9" cy="86.1" r="1.4"/><circle class="b" cx="77.6" cy="92.9" r="1.4"/><circle class="b" cx="168.5" cy="129.5" r="1.4"/><circle class="b" cx="165.8" cy="127" r="1.4"/><circle class="b" cx="252.3" cy="155.3" r="1.4"/><circle class="p" cx="82.1" cy="86.9" r="1.4"/><circle class="b" cx="143.4" cy="131.9" r="1.4"/><circle class="b" cx="220.8" cy="143.6" r="1.4"/><circle class="p" cx="196.1" cy="134.2" r="1.4"/><circle class="b" cx="84" cy="112.1" r="1.4"/><circle class="b" cx="104.1" cy="111.3" r="1.4"/><circle class="b" cx="57.6" cy="104.7" r="1.4"/><circle class="p" cx="148.8" cy="134.2" r="1.4"/><circle class="b" cx="206" cy="148.5" r="1.4"/><circle class="b" cx="249.2" cy="168.9" r="1.4"/><circle class="p" cx="97.5" cy="108.5" r="1.4"/><circle class="b" cx="80.1" cy="119.7" r="1.4"/><circle class="p" cx="121.1" cy="127" r="1.4"/><circle class="p" cx="175.2" cy="125.6" r="1.4"/><circle class="b" cx="144.7" cy="126.6" r="1.4"/><circle class="b" cx="59.1" cy="119.8" r="1.4"/><circle class="b" cx="205.4" cy="122" r="1.4"/><circle class="b" cx="180.5" cy="127.7" r="1.4"/><circle class="b" cx="107.3" cy="108" r="1.4"/><circle class="b" cx="66" cy="115.5" r="1.4"/><circle class="p" cx="53.9" cy="53.1" r="1.4"/><circle class="p" cx="130.6" cy="115.2" r="1.4"/><circle class="p" cx="195.8" cy="121" r="1.4"/><circle class="b" cx="64.6" cy="100.1" r="1.4"/><circle class="p" cx="120.4" cy="113.9" r="1.4"/><circle class="p" cx="112.9" cy="133.1" r="1.4"/><circle class="p" cx="170.1" cy="134.1" r="1.4"/><circle class="b" cx="191.3" cy="149" r="1.4"/><circle class="b" cx="53.9" cy="98.7" r="1.4"/><circle class="p" cx="64.9" cy="118.4" r="1.4"/><circle class="p" cx="184.3" cy="119.6" r="1.4"/><circle class="b" cx="254.1" cy="159.3" r="1.4"/><circle class="b" cx="107.7" cy="117.6" r="1.4"/><circle class="p" cx="158.6" cy="156.3" r="1.4"/><circle class="b" cx="177.4" cy="152.5" r="1.4"/><circle class="b" cx="118.1" cy="119.4" r="1.4"/><circle class="b" cx="78.1" cy="108.4" r="1.4"/><circle class="p" cx="254.1" cy="157.1" r="1.4"/><circle class="p" cx="79.4" cy="86.6" r="1.4"/><circle class="p" cx="240.4" cy="123" r="1.4"/><circle class="b" cx="250.2" cy="164.4" r="1.4"/><circle class="b" cx="155.2" cy="133" r="1.4"/><circle class="p" cx="149.9" cy="132.9" r="1.4"/><circle class="b" cx="151.8" cy="127.8" r="1.4"/><circle class="b" cx="173.4" cy="164.7" r="1.4"/><circle class="p" cx="232.1" cy="169.9" r="1.4"/><circle class="b" cx="89.7" cy="112.6" r="1.4"/><circle class="p" cx="54.5" cy="79.7" r="1.4"/><circle class="b" cx="135.3" cy="125.4" r="1.4"/><circle class="b" cx="97.9" cy="123.7" r="1.4"/><circle class="p" cx="151.4" cy="136.1" r="1.4"/><circle class="p" cx="96.6" cy="102.2" r="1.4"/><circle class="b" cx="80.5" cy="98" r="1.4"/><circle class="b" cx="100.2" cy="98.9" r="1.4"/><circle class="b" cx="238.8" cy="167.9" r="1.4"/><circle class="p" cx="172" cy="114.8" r="1.4"/><circle class="p" cx="98.9" cy="110.5" r="1.4"/><circle class="p" cx="157.8" cy="113.6" r="1.4"/><circle class="b" cx="79.5" cy="117.6" r="1.4"/><circle class="b" cx="249.9" cy="167" r="1.4"/><circle class="b" cx="217.8" cy="119.5" r="1.4"/><circle class="p" cx="54.7" cy="91.6" r="1.4"/><circle class="b" cx="182.4" cy="112.9" r="1.4"/><circle class="b" cx="153.9" cy="130.8" r="1.4"/><circle class="b" cx="152.4" cy="152.6" r="1.4"/><circle class="p" cx="225.1" cy="146.3" r="1.4"/><circle class="b" cx="65.1" cy="91.8" r="1.4"/><circle class="p" cx="112.3" cy="115.2" r="1.4"/><circle class="b" cx="104.8" cy="116.6" r="1.4"/><circle class="b" cx="188.6" cy="141" r="1.4"/><circle class="b" cx="201.6" cy="160.9" r="1.4"/><circle class="p" cx="87.6" cy="105.5" r="1.4"/><circle class="p" cx="57.7" cy="81.4" r="1.4"/><circle class="b" cx="76.8" cy="94.2" r="1.4"/><circle class="p" cx="136.3" cy="104.7" r="1.4"/><circle class="p" cx="83.3" cy="92.2" r="1.4"/><circle class="p" cx="53.9" cy="71.1" r="1.4"/><circle class="p" cx="137.1" cy="120.5" r="1.4"/><circle class="p" cx="92.5" cy="109.8" r="1.4"/><circle class="p" cx="195.3" cy="125.4" r="1.4"/><circle class="p" cx="193.6" cy="139.6" r="1.4"/><circle class="b" cx="55.8" cy="113.5" r="1.4"/><circle class="p" cx="81.2" cy="79" r="1.4"/><circle class="b" cx="192.8" cy="156.5" r="1.4"/><circle class="b" cx="229.3" cy="145.5" r="1.4"/><circle class="b" cx="175" cy="123.2" r="1.4"/><circle class="b" cx="229.3" cy="154.1" r="1.4"/><circle class="b" cx="54.1" cy="106.3" r="1.4"/><circle class="p" cx="131.9" cy="118.3" r="1.4"/><circle class="p" cx="192.6" cy="115.9" r="1.4"/><circle class="b" cx="91.5" cy="128.2" r="1.4"/><circle class="b" cx="125" cy="109.8" r="1.4"/><circle class="b" cx="134.1" cy="125.7" r="1.4"/><circle class="p" cx="164.5" cy="119.3" r="1.4"/><circle class="p" cx="122.8" cy="96.7" r="1.4"/><circle class="b" cx="151.8" cy="123.1" r="1.4"/><circle class="p" cx="65.1" cy="109.5" r="1.4"/><circle class="p" cx="142.5" cy="112.4" r="1.4"/><circle class="p" cx="80.3" cy="109.3" r="1.4"/><circle class="b" cx="75.5" cy="128.6" r="1.4"/><circle class="p" cx="237.3" cy="138.4" r="1.4"/><circle class="b" cx="117" cy="133.4" r="1.4"/><circle class="p" cx="58.2" cy="104.4" r="1.4"/><circle class="b" cx="249.4" cy="141.8" r="1.4"/><circle class="p" cx="111.9" cy="108.8" r="1.4"/><circle class="p" cx="123.3" cy="114.9" r="1.4"/><circle class="b" cx="159.9" cy="137.1" r="1.4"/><circle class="p" cx="190.1" cy="128.7" r="1.4"/><circle class="p" cx="74.8" cy="108.6" r="1.4"/><circle class="p" cx="191.8" cy="121.2" r="1.4"/><circle class="b" cx="256.3" cy="154.5" r="1.4"/><circle class="p" cx="86.5" cy="97.2" r="1.4"/><circle class="p" cx="133.8" cy="131.9" r="1.4"/><circle class="b" cx="97.4" cy="109.3" r="1.4"/><circle class="p" cx="102.3" cy="104.8" r="1.4"/><circle class="p" cx="208.7" cy="138" r="1.4"/><circle class="p" cx="158.7" cy="133.9" r="1.4"/><circle class="b" cx="113.4" cy="116.1" r="1.4"/><circle class="b" cx="96.3" cy="136.8" r="1.4"/><circle class="b" cx="72" cy="114.3" r="1.4"/><circle class="p" cx="121.7" cy="98.4" r="1.4"/><circle class="b" cx="88.7" cy="124.3" r="1.4"/><circle class="p" cx="159.3" cy="122" r="1.4"/><circle class="p" cx="231.7" cy="148.4" r="1.4"/><circle class="p" cx="228" cy="121.8" r="1.4"/><circle class="b" cx="220.7" cy="133.5" r="1.4"/><circle class="b" cx="54.2" cy="99.9" r="1.4"/><circle class="b" cx="181.5" cy="154.3" r="1.4"/><circle class="b" cx="200.4" cy="141.6" r="1.4"/><circle class="b" cx="56.2" cy="99.9" r="1.4"/><circle class="p" cx="63.1" cy="88.7" r="1.4"/><circle class="b" cx="99.7" cy="128.9" r="1.4"/><circle class="p" cx="53.9" cy="68.3" r="1.4"/><circle class="b" cx="85.4" cy="100" r="1.4"/><circle class="b" cx="150.1" cy="114.3" r="1.4"/><circle class="p" cx="157.6" cy="126.6" r="1.4"/><circle class="p" cx="80.3" cy="97.1" r="1.4"/><circle class="b" cx="59" cy="83.8" r="1.4"/><circle class="p" cx="175.5" cy="119.7" r="1.4"/><circle class="p" cx="61.6" cy="99.3" r="1.4"/><circle class="p" cx="53.9" cy="62.5" r="1.4"/><circle class="b" cx="168.5" cy="140.8" r="1.4"/><circle class="p" cx="244.3" cy="137" r="1.4"/><circle class="p" cx="112" cy="126.8" r="1.4"/><circle class="p" cx="121.1" cy="103.4" r="1.4"/><circle class="b" cx="132.5" cy="107.1" r="1.4"/><circle class="p" cx="69.9" cy="108.9" r="1.4"/><circle class="b" cx="206.4" cy="118.4" r="1.4"/><circle class="p" cx="177.8" cy="130.3" r="1.4"/><circle class="b" cx="105.8" cy="114.4" r="1.4"/><circle class="b" cx="197.4" cy="111.2" r="1.4"/><circle class="p" cx="96.5" cy="109.1" r="1.4"/><circle class="p" cx="84.6" cy="97.5" r="1.4"/><circle class="p" cx="72.5" cy="106.7" r="1.4"/><circle class="b" cx="56.3" cy="82.2" r="1.4"/><circle class="p" cx="166.8" cy="123.3" r="1.4"/><circle class="p" cx="83.7" cy="103.9" r="1.4"/><circle class="b" cx="247.6" cy="159.8" r="1.4"/><circle class="p" cx="183.8" cy="112.5" r="1.4"/><circle class="b" cx="131.9" cy="131" r="1.4"/><circle class="b" cx="91.7" cy="109.2" r="1.4"/><circle class="p" cx="182.2" cy="136.7" r="1.4"/><circle class="b" cx="153.7" cy="124.5" r="1.4"/><circle class="b" cx="246.1" cy="137.9" r="1.4"/><circle class="p" cx="159.5" cy="117.2" r="1.4"/><circle class="p" cx="108.8" cy="96.4" r="1.4"/><circle class="b" cx="228.1" cy="132.2" r="1.4"/><circle class="b" cx="139.7" cy="111.6" r="1.4"/><circle class="b" cx="54.2" cy="86.2" r="1.4"/><circle class="b" cx="54.2" cy="74.1" r="1.4"/><circle class="b" cx="54.5" cy="70.2" r="1.4"/><circle class="b" cx="54.1" cy="96.3" r="1.4"/><circle class="p" cx="54.5" cy="90.9" r="1.4"/><circle class="p" cx="54.4" cy="85.4" r="1.4"/><circle class="b" cx="54.3" cy="43.3" r="1.4"/><circle class="b" cx="54.6" cy="49.6" r="1.4"/><circle class="b" cx="53.8" cy="42.9" r="1.4"/><circle class="b" cx="54.9" cy="72.5" r="1.4"/><circle class="b" cx="54.3" cy="64.2" r="1.4"/><circle class="p" cx="54.5" cy="56.6" r="1.4"/><circle class="b" cx="54" cy="60.4" r="1.4"/><circle class="b" cx="53.8" cy="52.8" r="1.4"/><circle class="b" cx="54.2" cy="47.6" r="1.4"/><circle class="b" cx="54.7" cy="54.9" r="1.4"/><circle class="b" cx="54.4" cy="80.9" r="1.4"/><circle class="p" cx="53.9" cy="59.2" r="1.4"/><circle class="p" cx="54.5" cy="76.9" r="1.4"/><circle class="p" cx="54.6" cy="63.3" r="1.4"/><circle class="b" cx="54.7" cy="74.7" r="1.4"/><circle class="b" cx="54.4" cy="82" r="1.4"/><circle class="b" cx="54.8" cy="92.5" r="1.4"/><circle class="p" cx="54.4" cy="52.7" r="1.4"/><circle class="p" cx="54.7" cy="91.3" r="1.4"/><circle class="b" cx="54.1" cy="71.2" r="1.4"/><circle class="b" cx="54.5" cy="73.5" r="1.4"/><circle class="b" cx="54.8" cy="47.5" r="1.4"/><circle class="p" cx="54.6" cy="92.2" r="1.4"/><circle class="p" cx="53.8" cy="57.6" r="1.4"/><circle class="b" cx="55.1" cy="60.9" r="1.4"/><circle class="p" cx="54" cy="91.2" r="1.4"/><circle class="p" cx="54.6" cy="73.3" r="1.4"/><circle class="b" cx="54.1" cy="71.2" r="1.4"/><circle class="p" cx="54" cy="59.8" r="1.4"/><circle class="b" cx="54" cy="71.7" r="1.4"/><circle class="b" cx="54.1" cy="93.1" r="1.4"/><circle class="b" cx="54.7" cy="80.1" r="1.4"/><circle class="b" cx="54.2" cy="50.4" r="1.4"/><circle class="p" cx="54.6" cy="63.4" r="1.4"/><circle class="b" cx="53.9" cy="55.2" r="1.4"/><circle class="b" cx="54.9" cy="48" r="1.4"/><circle class="b" cx="54.1" cy="56.6" r="1.4"/><circle class="b" cx="54.3" cy="75.6" r="1.4"/><circle class="b" cx="54.3" cy="58.5" r="1.4"/><circle class="b" cx="54.3" cy="53.1" r="1.4"/><circle class="b" cx="54.4" cy="49.6" r="1.4"/><circle class="b" cx="54.3" cy="44.4" r="1.4"/><circle class="b" cx="54.2" cy="66.4" r="1.4"/><circle class="b" cx="54.5" cy="92.5" r="1.4"/><circle class="b" cx="54" cy="75.4" r="1.4"/><circle class="p" cx="54.2" cy="52.9" r="1.4"/><circle class="b" cx="54.3" cy="87.8" r="1.4"/><circle class="p" cx="54.8" cy="74.2" r="1.4"/><circle class="b" cx="53.9" cy="50.8" r="1.4"/><circle class="b" cx="54.1" cy="67" r="1.4"/><circle class="p" cx="127" cy="65.8" r="1.4"/><circle class="b" cx="163.8" cy="86.1" r="1.4"/><circle class="p" cx="183.6" cy="92.6" r="1.4"/><polyline class="lp" points="55.2,83.5 58.3,85.3 62.3,87.9 67.2,90.9 72.6,94.2 78.3,97.6 84.1,100.9 89.7,103.8 95,106.3 100,108.3 105,109.9 110,111.4 115,112.7 120,113.9 125,115.1 130,116.3 135,117.6 140,119 145,120.4 150,121.8 155,123.1 160,124.5 165,125.9 170,127.3 175,128.8 180,130.3 185,131.8 190,133.4 194.9,134.9 199.9,136.5 204.9,138.1 210,139.7 215,141.3 220.4,143 226.1,144.9 232.1,146.8 238,148.7 243.6,150.5 248.6,152.1 252.8,153.5 256,154.5"/><polyline class="lb" points="55.2,92.4 58.3,93.8 62.3,95.8 67.2,98.2 72.6,100.7 78.3,103.4 84.1,106 89.7,108.4 95,110.5 100,112.2 105,113.8 110,115.3 115,116.6 120,117.9 125,119.2 130,120.6 135,122 140,123.5 145,124.9 150,126.4 155,127.9 160,129.4 165,130.9 170,132.4 175,134 180,135.6 185,137.2 190,138.9 194.9,140.6 199.9,142.2 204.9,143.9 210,145.6 215,147.3 220.4,149.1 226.1,151 232.1,152.9 238,154.9 243.6,156.7 248.6,158.4 252.8,159.8 256,160.8"/><rect x="296.1" y="175.5" width="201.8" height="35" fill="url(#band)"/><path class="ax" d="M290.1 16.8H499.9" /><path class="ax" d="M498.9 15.8V217" /><path class="ax" d="M295.1 15.8V217" /><path class="ax" d="M290.1 212.8H499.9" /><path class="ax" d="M290.1 212.8H295.1"/><text class="tl" transform="translate(287 216.9) scale(1.14 1)" text-anchor="end">0</text><path class="ax" d="M290.1 188.3H295.1"/><text class="tl" transform="translate(287 192.4) scale(1.14 1)" text-anchor="end">2</text><path class="ax" d="M290.1 163.8H295.1"/><text class="tl" transform="translate(287 167.9) scale(1.14 1)" text-anchor="end">4</text><path class="ax" d="M290.1 139.3H295.1"/><text class="tl" transform="translate(287 143.4) scale(1.14 1)" text-anchor="end">6</text><path class="ax" d="M290.1 114.8H295.1"/><text class="tl" transform="translate(287 118.9) scale(1.14 1)" text-anchor="end">8</text><path class="ax" d="M290.1 90.3H295.1"/><text class="tl" transform="translate(287 94.4) scale(1.14 1)" text-anchor="end">10</text><path class="ax" d="M290.1 65.8H295.1"/><text class="tl" transform="translate(287 69.9) scale(1.14 1)" text-anchor="end">12</text><path class="ax" d="M290.1 41.3H295.1"/><text class="tl" transform="translate(287 45.4) scale(1.14 1)" text-anchor="end">14</text><path class="ax" d="M290.1 16.8H295.1"/><text class="tl" transform="translate(287 20.9) scale(1.14 1)" text-anchor="end">16</text><path class="ax" d="M292.5 200.6H295.1"/><path class="ax" d="M292.5 176.1H295.1"/><path class="ax" d="M292.5 151.6H295.1"/><path class="ax" d="M292.5 127.1H295.1"/><path class="ax" d="M292.5 102.6H295.1"/><path class="ax" d="M292.5 78.1H295.1"/><path class="ax" d="M292.5 53.6H295.1"/><path class="ax" d="M292.5 29.1H295.1"/><path class="ax" d="M295.1 212.8V217"/><text class="tl" transform="translate(295.1 232.4) scale(1.14 1)" text-anchor="middle">0</text><path class="ax" d="M305.3 212.8V215"/><path class="ax" d="M315.5 212.8V217"/><text class="tl" transform="translate(315.5 232.4) scale(1.14 1)" text-anchor="middle">10</text><path class="ax" d="M325.7 212.8V215"/><path class="ax" d="M335.9 212.8V217"/><text class="tl" transform="translate(335.9 232.4) scale(1.14 1)" text-anchor="middle">20</text><path class="ax" d="M346.1 212.8V215"/><path class="ax" d="M356.2 212.8V217"/><text class="tl" transform="translate(356.2 232.4) scale(1.14 1)" text-anchor="middle">30</text><path class="ax" d="M366.4 212.8V215"/><path class="ax" d="M376.6 212.8V217"/><text class="tl" transform="translate(376.6 232.4) scale(1.14 1)" text-anchor="middle">40</text><path class="ax" d="M386.8 212.8V215"/><path class="ax" d="M397 212.8V217"/><text class="tl" transform="translate(397 232.4) scale(1.14 1)" text-anchor="middle">50</text><path class="ax" d="M407.2 212.8V215"/><path class="ax" d="M417.4 212.8V217"/><text class="tl" transform="translate(417.4 232.4) scale(1.14 1)" text-anchor="middle">60</text><path class="ax" d="M427.6 212.8V215"/><path class="ax" d="M437.8 212.8V217"/><text class="tl" transform="translate(437.8 232.4) scale(1.14 1)" text-anchor="middle">70</text><path class="ax" d="M447.9 212.8V215"/><path class="ax" d="M458.1 212.8V217"/><text class="tl" transform="translate(458.1 232.4) scale(1.14 1)" text-anchor="middle">80</text><path class="ax" d="M468.3 212.8V215"/><path class="ax" d="M478.5 212.8V217"/><text class="tl" transform="translate(478.5 232.4) scale(1.14 1)" text-anchor="middle">90</text><path class="ax" d="M488.7 212.8V215"/><path class="ax" d="M498.9 212.8V217"/><text class="tl" transform="translate(498.9 232.4) scale(1.14 1)" text-anchor="middle">100</text><polyline class="r99" points="295.5,48 296.3,60.3 331.5,87.8 498,130.3"/><polyline class="gd" points="296,73.8 331.5,101.2 498,142.8"/><polyline class="g50" points="296,88.6 331.5,116.6 498,158.6"/><polyline class="gd" points="296,103.6 331.5,129.4 498,173.2"/><polyline class="b01" points="296,113.6 331.5,141 498,183.2"/><path class="v" d="M389.1 114.2l2.05 2.05-2.05 2.05-2.05-2.05z"/><path class="v" d="M376.9 139.8l2.05 2.05-2.05 2.05-2.05-2.05z"/><path class="v" d="M379.7 138.8l2.05 2.05-2.05 2.05-2.05-2.05z"/><path class="v" d="M425 127.4l2.05 2.05-2.05 2.05-2.05-2.05z"/><path class="v" d="M315.6 114.2l2.05 2.05-2.05 2.05-2.05-2.05z"/><path class="v" d="M317.5 102l2.05 2.05-2.05 2.05-2.05-2.05z"/><path class="r" d="M301.1 141.5l2.05 2.05-2.05 2.05-2.05-2.05z"/><path class="v" d="M411.9 152.8l2.05 2.05-2.05 2.05-2.05-2.05z"/><path class="v" d="M314.7 125.5l2.05 2.05-2.05 2.05-2.05-2.05z"/><path class="v" d="M377.8 131l2.05 2.05-2.05 2.05-2.05-2.05z"/><path class="v" d="M417.5 153.8l2.05 2.05-2.05 2.05-2.05-2.05z"/><path class="r" d="M317.5 146.2l2.05 2.05-2.05 2.05-2.05-2.05z"/><path class="v" d="M422.2 143.4l2.05 2.05-2.05 2.05-2.05-2.05z"/><path class="r" d="M347.8 170.8l2.05 2.05-2.05 2.05-2.05-2.05z"/><path class="v" d="M367.6 135.3l2.05 2.05-2.05 2.05-2.05-2.05z"/><path class="v" d="M336.3 115l2.05 2.05-2.05 2.05-2.05-2.05z"/><path class="r" d="M387.2 153.8l2.05 2.05-2.05 2.05-2.05-2.05z"/><path class="v" d="M345.9 130.1l2.05 2.05-2.05 2.05-2.05-2.05z"/><path class="v" d="M347.9 140.5l2.05 2.05-2.05 2.05-2.05-2.05z"/><path class="v" d="M384.4 131l2.05 2.05-2.05 2.05-2.05-2.05z"/><path class="r" d="M374.1 171.6l2.05 2.05-2.05 2.05-2.05-2.05z"/><path class="r" d="M314.7 165l2.05 2.05-2.05 2.05-2.05-2.05z"/><path class="v" d="M472.4 146.3l2.05 2.05-2.05 2.05-2.05-2.05z"/><path class="v" d="M378.8 116l2.05 2.05-2.05 2.05-2.05-2.05z"/><path class="r" d="M350.6 170.8l2.05 2.05-2.05 2.05-2.05-2.05z"/><path class="r" d="M391 166.9l2.05 2.05-2.05 2.05-2.05-2.05z"/><path class="v" d="M358.1 131.9l2.05 2.05-2.05 2.05-2.05-2.05z"/><path class="v" d="M385.4 124.5l2.05 2.05-2.05 2.05-2.05-2.05z"/><path class="r" d="M431.8 155.3l2.05 2.05-2.05 2.05-2.05-2.05z"/><path class="r" d="M296.8 139.8l2.05 2.05-2.05 2.05-2.05-2.05z"/><path class="r" d="M442 162.1l2.05 2.05-2.05 2.05-2.05-2.05z"/><path class="v" d="M357.2 125.5l2.05 2.05-2.05 2.05-2.05-2.05z"/><path class="v" d="M417.5 107.5l2.05 2.05-2.05 2.05-2.05-2.05z"/><path class="r" d="M337.2 168.8l2.05 2.05-2.05 2.05-2.05-2.05z"/><path class="r" d="M374.1 143.4l2.05 2.05-2.05 2.05-2.05-2.05z"/><path class="r" d="M321.3 150l2.05 2.05-2.05 2.05-2.05-2.05z"/><path class="r" d="M370.3 159.4l2.05 2.05-2.05 2.05-2.05-2.05z"/><path class="v" d="M302.7 84.7l2.05 2.05-2.05 2.05-2.05-2.05z"/><path class="r" d="M356.2 178.2l2.05 2.05-2.05 2.05-2.05-2.05z"/><path class="v" d="M319.4 109.5l2.05 2.05-2.05 2.05-2.05-2.05z"/><path class="v" d="M355.8 135.3l2.05 2.05-2.05 2.05-2.05-2.05z"/><path class="v" d="M322.2 118.9l2.05 2.05-2.05 2.05-2.05-2.05z"/><path class="v" d="M372.2 133.8l2.05 2.05-2.05 2.05-2.05-2.05z"/><path class="v" d="M415.6 125.5l2.05 2.05-2.05 2.05-2.05-2.05z"/><path class="v" d="M322.2 110.4l2.05 2.05-2.05 2.05-2.05-2.05z"/><path class="v" d="M419.4 131l2.05 2.05-2.05 2.05-2.05-2.05z"/><path class="r" d="M314.7 148.1l2.05 2.05-2.05 2.05-2.05-2.05z"/><path class="v" d="M302.5 98.2l2.05 2.05-2.05 2.05-2.05-2.05z"/><path class="v" d="M396.8 120.8l2.05 2.05-2.05 2.05-2.05-2.05z"/><path class="r" d="M329.7 174.4l2.05 2.05-2.05 2.05-2.05-2.05z"/><path class="r" d="M348.7 162.2l2.05 2.05-2.05 2.05-2.05-2.05z"/><path class="r" d="M316.6 141.5l2.05 2.05-2.05 2.05-2.05-2.05z"/><path class="v" d="M460.4 157.5l2.05 2.05-2.05 2.05-2.05-2.05z"/><path class="r" d="M350.6 159.4l2.05 2.05-2.05 2.05-2.05-2.05z"/><path class="r" d="M319.4 170.8l2.05 2.05-2.05 2.05-2.05-2.05z"/><path class="v" d="M391.9 119.8l2.05 2.05-2.05 2.05-2.05-2.05z"/><path class="v" d="M360 126.4l2.05 2.05-2.05 2.05-2.05-2.05z"/><path class="r" d="M307.2 169.8l2.05 2.05-2.05 2.05-2.05-2.05z"/><path class="r" d="M305.3 166l2.05 2.05-2.05 2.05-2.05-2.05z"/><path class="r" d="M380.7 153.8l2.05 2.05-2.05 2.05-2.05-2.05z"/><path class="r" d="M383.5 164.1l2.05 2.05-2.05 2.05-2.05-2.05z"/><path class="r" d="M329.7 164.1l2.05 2.05-2.05 2.05-2.05-2.05z"/><path class="v" d="M457.7 156.9l2.05 2.05-2.05 2.05-2.05-2.05z"/><path class="v" d="M405.3 137.8l2.05 2.05-2.05 2.05-2.05-2.05z"/><path class="v" d="M334.4 127.4l2.05 2.05-2.05 2.05-2.05-2.05z"/><path class="v" d="M408.1 159.4l2.05 2.05-2.05 2.05-2.05-2.05z"/><path class="r" d="M305.3 161.3l2.05 2.05-2.05 2.05-2.05-2.05z"/><path class="r" d="M328 143.4l2.05 2.05-2.05 2.05-2.05-2.05z"/><path class="v" d="M351.8 133.9l2.05 2.05-2.05 2.05-2.05-2.05z"/><path class="r" d="M298.7 175.4l2.05 2.05-2.05 2.05-2.05-2.05z"/><path class="v" d="M304.3 106.7l2.05 2.05-2.05 2.05-2.05-2.05z"/><path class="v" d="M392.9 143.4l2.05 2.05-2.05 2.05-2.05-2.05z"/><path class="r" d="M326 169.8l2.05 2.05-2.05 2.05-2.05-2.05z"/><path class="v" d="M360 118.9l2.05 2.05-2.05 2.05-2.05-2.05z"/><path class="r" d="M321.3 166l2.05 2.05-2.05 2.05-2.05-2.05z"/><path class="v" d="M399.6 148.1l2.05 2.05-2.05 2.05-2.05-2.05z"/><path class="v" d="M368.4 120.8l2.05 2.05-2.05 2.05-2.05-2.05z"/><path class="v" d="M326 108.5l2.05 2.05-2.05 2.05-2.05-2.05z"/><path class="v" d="M434.4 160.3l2.05 2.05-2.05 2.05-2.05-2.05z"/><path class="v" d="M404.5 122.2l2.05 2.05-2.05 2.05-2.05-2.05z"/><path class="v" d="M328.8 122.7l2.05 2.05-2.05 2.05-2.05-2.05z"/><path class="r" d="M341 142.3l2.05 2.05-2.05 2.05-2.05-2.05z"/><path class="r" d="M331.6 148.1l2.05 2.05-2.05 2.05-2.05-2.05z"/><path class="r" d="M351.5 153.8l2.05 2.05-2.05 2.05-2.05-2.05z"/><path class="v" d="M421.3 138.8l2.05 2.05-2.05 2.05-2.05-2.05z"/><path class="v" d="M318.4 123.5l2.05 2.05-2.05 2.05-2.05-2.05z"/><path class="r" d="M297.8 169.8l2.05 2.05-2.05 2.05-2.05-2.05z"/><path class="v" d="M413.7 140.6l2.05 2.05-2.05 2.05-2.05-2.05z"/><path class="r" d="M427.8 165l2.05 2.05-2.05 2.05-2.05-2.05z"/><path class="r" d="M320.3 157.5l2.05 2.05-2.05 2.05-2.05-2.05z"/><path class="v" d="M297.8 109.5l2.05 2.05-2.05 2.05-2.05-2.05z"/><path class="v" d="M386.3 133.8l2.05 2.05-2.05 2.05-2.05-2.05z"/><path class="v" d="M318.4 113.2l2.05 2.05-2.05 2.05-2.05-2.05z"/><path class="v" d="M361.9 114.2l2.05 2.05-2.05 2.05-2.05-2.05z"/><path class="r" d="M361.9 158.5l2.05 2.05-2.05 2.05-2.05-2.05z"/><path class="r" d="M358 168.8l2.05 2.05-2.05 2.05-2.05-2.05z"/><path class="v" d="M352.5 112.2l2.05 2.05-2.05 2.05-2.05-2.05z"/><path class="v" d="M376 124.5l2.05 2.05-2.05 2.05-2.05-2.05z"/><path class="r" d="M384.4 152.8l2.05 2.05-2.05 2.05-2.05-2.05z"/><path class="v" d="M415.6 159.4l2.05 2.05-2.05 2.05-2.05-2.05z"/><path class="v" d="M416.6 150.9l2.05 2.05-2.05 2.05-2.05-2.05z"/><path class="v" d="M325 127.4l2.05 2.05-2.05 2.05-2.05-2.05z"/><path class="v" d="M340.1 111.4l2.05 2.05-2.05 2.05-2.05-2.05z"/><path class="r" d="M395.9 160.3l2.05 2.05-2.05 2.05-2.05-2.05z"/><path class="r" d="M452.7 157.5l2.05 2.05-2.05 2.05-2.05-2.05z"/><path class="v" d="M415 136.6l2.05 2.05-2.05 2.05-2.05-2.05z"/><path class="r" d="M347.8 165l2.05 2.05-2.05 2.05-2.05-2.05z"/><path class="r" d="M314.7 145.3l2.05 2.05-2.05 2.05-2.05-2.05z"/><path class="r" d="M341.9 166.9l2.05 2.05-2.05 2.05-2.05-2.05z"/><path class="r" d="M323.1 145.3l2.05 2.05-2.05 2.05-2.05-2.05z"/><path class="r" d="M360.9 161.3l2.05 2.05-2.05 2.05-2.05-2.05z"/><path class="v" d="M345 132.6l2.05 2.05-2.05 2.05-2.05-2.05z"/><path class="r" d="M305.3 181.9l2.05 2.05-2.05 2.05-2.05-2.05z"/><path class="v" d="M408.1 131l2.05 2.05-2.05 2.05-2.05-2.05z"/><path class="r" d="M364.7 152.8l2.05 2.05-2.05 2.05-2.05-2.05z"/><path class="r" d="M401.5 167.9l2.05 2.05-2.05 2.05-2.05-2.05z"/><path class="v" d="M354.3 104.8l2.05 2.05-2.05 2.05-2.05-2.05z"/><path class="v" d="M396.6 136.6l2.05 2.05-2.05 2.05-2.05-2.05z"/><path class="r" d="M381.6 161.3l2.05 2.05-2.05 2.05-2.05-2.05z"/><path class="v" d="M364.7 137.8l2.05 2.05-2.05 2.05-2.05-2.05z"/><path class="v" d="M313.7 118l2.05 2.05-2.05 2.05-2.05-2.05z"/><path class="r" d="M398.7 162.2l2.05 2.05-2.05 2.05-2.05-2.05z"/><path class="v" d="M344.9 96.2l2.05 2.05-2.05 2.05-2.05-2.05z"/><path class="r" d="M350.6 164.1l2.05 2.05-2.05 2.05-2.05-2.05z"/><path class="v" d="M352.5 109.5l2.05 2.05-2.05 2.05-2.05-2.05z"/><path class="r" d="M390.1 157.5l2.05 2.05-2.05 2.05-2.05-2.05z"/><path class="v" d="M366.6 143.4l2.05 2.05-2.05 2.05-2.05-2.05z"/><path class="v" d="M344.9 110.4l2.05 2.05-2.05 2.05-2.05-2.05z"/><path class="v" d="M298.7 130.1l2.05 2.05-2.05 2.05-2.05-2.05z"/><path class="r" d="M416.6 160.3l2.05 2.05-2.05 2.05-2.05-2.05z"/><path class="v" d="M384.4 121.7l2.05 2.05-2.05 2.05-2.05-2.05z"/><path class="v" d="M371.6 139.2l2.05 2.05-2.05 2.05-2.05-2.05z"/><path class="v" d="M357.2 146.2l2.05 2.05-2.05 2.05-2.05-2.05z"/><path class="r" d="M403.4 171.6l2.05 2.05-2.05 2.05-2.05-2.05z"/><path class="r" d="M346.8 160.3l2.05 2.05-2.05 2.05-2.05-2.05z"/><path class="r" d="M301.5 145.3l2.05 2.05-2.05 2.05-2.05-2.05z"/><path class="v" d="M399.6 131.9l2.05 2.05-2.05 2.05-2.05-2.05z"/><path class="r" d="M395.9 174.4l2.05 2.05-2.05 2.05-2.05-2.05z"/><path class="r" d="M378.8 149.1l2.05 2.05-2.05 2.05-2.05-2.05z"/><path class="r" d="M300.6 168.8l2.05 2.05-2.05 2.05-2.05-2.05z"/><path class="v" d="M438.2 138.8l2.05 2.05-2.05 2.05-2.05-2.05z"/><path class="v" d="M462.5 166.3l2.05 2.05-2.05 2.05-2.05-2.05z"/><path class="r" d="M320.3 131.9l2.05 2.05-2.05 2.05-2.05-2.05z"/><path class="r" d="M308.1 173.5l2.05 2.05-2.05 2.05-2.05-2.05z"/><path class="v" d="M402.5 128.2l2.05 2.05-2.05 2.05-2.05-2.05z"/><path class="v" d="M316.6 111.4l2.05 2.05-2.05 2.05-2.05-2.05z"/><path class="r" d="M326.9 132.9l2.05 2.05-2.05 2.05-2.05-2.05z"/><path class="r" d="M340.1 165l2.05 2.05-2.05 2.05-2.05-2.05z"/><path class="r" d="M378.8 158.5l2.05 2.05-2.05 2.05-2.05-2.05z"/><path class="v" d="M322.2 126.4l2.05 2.05-2.05 2.05-2.05-2.05z"/><path class="r" d="M310.9 161.3l2.05 2.05-2.05 2.05-2.05-2.05z"/><path class="r" d="M407.2 175.4l2.05 2.05-2.05 2.05-2.05-2.05z"/><path class="r" d="M438.2 166.9l2.05 2.05-2.05 2.05-2.05-2.05z"/><path class="v" d="M332.5 120.8l2.05 2.05-2.05 2.05-2.05-2.05z"/><path class="v" d="M310.9 114.2l2.05 2.05-2.05 2.05-2.05-2.05z"/><path class="v" d="M392.6 136.6l2.05 2.05-2.05 2.05-2.05-2.05z"/><path class="r" d="M372.2 164.1l2.05 2.05-2.05 2.05-2.05-2.05z"/><path class="v" d="M386.3 143.4l2.05 2.05-2.05 2.05-2.05-2.05z"/><path class="r" d="M449.9 160.4l2.05 2.05-2.05 2.05-2.05-2.05z"/><path class="r" d="M339.1 161.3l2.05 2.05-2.05 2.05-2.05-2.05z"/><path class="v" d="M410 150.9l2.05 2.05-2.05 2.05-2.05-2.05z"/><path class="v" d="M440 134.8l2.05 2.05-2.05 2.05-2.05-2.05z"/><path class="v" d="M400.5 143.2l2.05 2.05-2.05 2.05-2.05-2.05z"/><path class="r" d="M329.7 161.3l2.05 2.05-2.05 2.05-2.05-2.05z"/><path class="v" d="M355.8 128.8l2.05 2.05-2.05 2.05-2.05-2.05z"/><path class="v" d="M390 143.2l2.05 2.05-2.05 2.05-2.05-2.05z"/><path class="r" d="M319.4 175.4l2.05 2.05-2.05 2.05-2.05-2.05z"/><path class="v" d="M464 150.5l2.05 2.05-2.05 2.05-2.05-2.05z"/><path class="v" d="M364.7 131.9l2.05 2.05-2.05 2.05-2.05-2.05z"/><path class="v" d="M412.4 144.5l2.05 2.05-2.05 2.05-2.05-2.05z"/><path class="v" d="M309 103.9l2.05 2.05-2.05 2.05-2.05-2.05z"/><path class="v" d="M388.2 126.4l2.05 2.05-2.05 2.05-2.05-2.05z"/><path class="r" d="M389.1 151.9l2.05 2.05-2.05 2.05-2.05-2.05z"/><path class="r" d="M366.6 167.9l2.05 2.05-2.05 2.05-2.05-2.05z"/><path class="v" d="M416.6 120.8l2.05 2.05-2.05 2.05-2.05-2.05z"/><path class="r" d="M340.1 145.3l2.05 2.05-2.05 2.05-2.05-2.05z"/><path class="r" d="M310.9 168.8l2.05 2.05-2.05 2.05-2.05-2.05z"/><path class="r" d="M396.8 150.9l2.05 2.05-2.05 2.05-2.05-2.05z"/><path class="v" d="M354.3 131.9l2.05 2.05-2.05 2.05-2.05-2.05z"/><path class="r" d="M402.5 164.1l2.05 2.05-2.05 2.05-2.05-2.05z"/><text class="n" x="201.7" y="39.8" fill="#6a5068">n</text><rect x="210.4" y="34.9" width="8" height="1.2" fill="#c888ac"/><rect x="210.4" y="37.1" width="8" height="1.2" fill="#c888ac"/><text class="n" transform="translate(221.2 39.8) scale(1.15 1)" fill="#b0186f" stroke="#b0186f" stroke-width="0.3">414</text><text class="n" x="201.7" y="56.2" fill="#505060">n</text><rect x="210.4" y="51.3" width="8" height="1.2" fill="#8890a4"/><rect x="210.4" y="53.5" width="8" height="1.2" fill="#8890a4"/><text class="n" transform="translate(221.2 56.2) scale(1.15 1)" fill="#3a4a70" stroke="#3a4a70" stroke-width="0">418</text><text class="n" x="446.7" y="39.4" fill="#9a4858">n</text><rect x="455.4" y="34.5" width="8" height="1.2" fill="#c08898"/><rect x="455.4" y="36.7" width="8" height="1.2" fill="#c08898"/><text class="n" transform="translate(466.2 39.4) scale(1.15 1)" fill="#953a50" stroke="#953a50" stroke-width="0">89</text><text class="n" x="446.7" y="56.4" fill="#404040">n</text><rect x="455.4" y="51.5" width="8" height="1.2" fill="#8c8c8c"/><rect x="455.4" y="53.7" width="8" height="1.2" fill="#8c8c8c"/><text class="n" transform="translate(466.2 56.4) scale(1.15 1)" fill="#353535" stroke="#353535" stroke-width="0">121</text><text class="ti" style="stroke-width:0.5" transform="translate(23.3,159) rotate(-90) scale(0.68,1)">Telomere length (kb)</text><text class="ti" style="font-weight:bold;stroke-width:0" transform="translate(255.8,251.8) scale(0.655,1)">Age (yrs)</text></svg></body></html>
